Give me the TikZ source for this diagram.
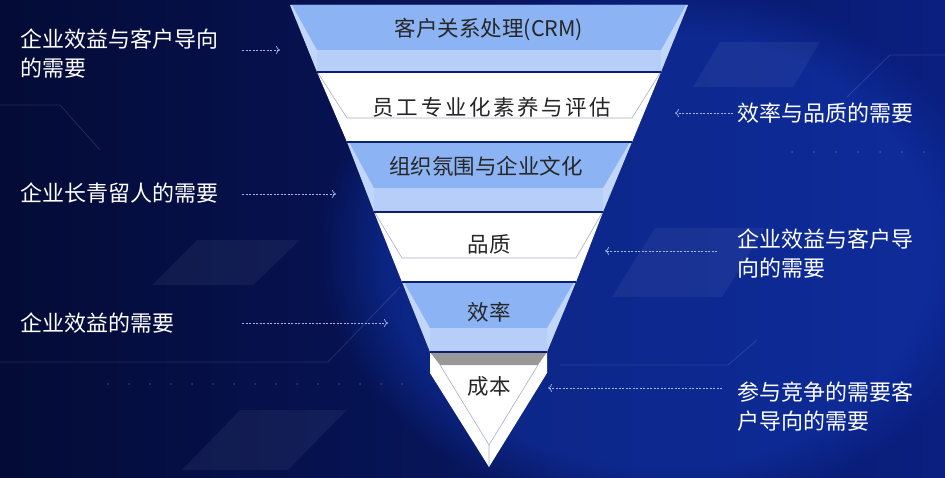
\documentclass[tikz,border=0pt]{standalone}
\usepackage{fontspec}
\setmainfont{Noto Sans CJK SC}
\usetikzlibrary{arrows.meta, fadings}

\definecolor{bgdark}{HTML}{040B36}
\definecolor{bgmid}{HTML}{0A1F80}
\definecolor{bgglow}{HTML}{1238B4}
\definecolor{facetop}{HTML}{8CB4F4}
\definecolor{facefront}{HTML}{B6CEF8}
\definecolor{faceside}{HTML}{C2D6FA}
\definecolor{edgegrey}{HTML}{A9AFC4}
\definecolor{seamblue}{HTML}{0E1E6E}
\definecolor{needline}{HTML}{A4B4E4}

\begin{document}
\begin{tikzpicture}
	[x=1pt, y=-1pt,
	 needtext/.style={text=white, font=\fontsize{22}{29}\selectfont, inner sep=0pt, align=left},
	 lhs/.style={needtext, anchor=west, text width=205pt},
	 rhs/.style={needtext, anchor=west},
	 layer/.style={text=black!85, font=\fontsize{21.5}{26}\selectfont, inner sep=0pt},
	 need/.style={draw=needline, line width=0.7pt, dash pattern=on 2pt off 1.5pt, -{To[length=4pt,width=8pt]}},
	 seam/.style={draw=seamblue, line width=1.2pt},
	 rim/.style={draw=edgegrey, line width=0.6pt},
	 decor/.style={fill=white, opacity=0.05},
	 trace/.style={draw=white, opacity=0.12, line width=0.8pt}]
   \useasboundingbox (0,0) rectangle (945,478);
   % background
   \shade[left color=bgdark, right color=bgmid] (0,0) rectangle (945,478);
   \fill[bgglow, opacity=0.5, path fading=circle with fuzzy edge 20 percent] (660,250) ellipse [x radius=340, y radius=270];
   \fill[decor] (197,240) -- (300,240) -- (253,285) -- (152,285) -- cycle;
   \fill[decor] (240,410) -- (347,410) -- (288,470) -- (182,470) -- cycle;
   \fill[decor] (720,42) -- (820,42) -- (793,87) -- (693,87) -- cycle;
   \fill[decor] (655,228) -- (765,228) -- (722,297) -- (612,297) -- cycle;
   \draw[trace] (0,362) -- (328,362) -- (400,287);
   \draw[trace] (847,97) -- (890,55) -- (945,55);
   \draw[trace] (560,365) -- (728,365) -- (757,340);
   \draw[trace] (0,105) -- (60,105) -- (100,150);
   \foreach \x in {108,129,...,405} \fill[white, opacity=0.2] (\x,384) circle (1pt);
   \foreach \x in {792,814,...,945} \fill[white, opacity=0.2] (\x,152) circle (1pt);

   % band 1
   \fill[faceside] (290,5) -- (317,72) -- (661,72) -- (688,5) -- cycle;
   \fill[facetop] (292,5) -- (686,5) -- (661,50) -- (317,50) -- cycle;
   \fill[facefront] (317,50) rectangle (661,72);
   % band 2
   \fill[white] (317,72) -- (347,142) -- (632,142) -- (661,72) -- cycle;
   \draw[rim] (318,73) -- (347,118) -- (632,118) -- (660,73);
   \draw[seam] (317,72) -- (661,72);
   % band 3
   \fill[faceside] (347,142) -- (374,212) -- (603,212) -- (632,142) -- cycle;
   \fill[facetop] (349,142) -- (630,142) -- (603,188) -- (374,188) -- cycle;
   \fill[facefront] (374,188) rectangle (603,212);
   \draw[seam] (347,142) -- (632,142);
   % band 4
   \fill[white] (374,212) -- (402,282) -- (576,282) -- (603,212) -- cycle;
   \draw[rim] (375,213) -- (402,258) -- (576,258) -- (602,213);
   \draw[seam] (374,212) -- (603,212);
   % band 5
   \fill[faceside] (402,282) -- (430,352) -- (547,352) -- (576,282) -- cycle;
   \fill[facetop] (404,282) -- (574,282) -- (547,328) -- (430,328) -- cycle;
   \fill[facefront] (430,328) rectangle (547,352);
   \draw[seam] (402,282) -- (576,282);
   % tip
   \fill[white] (430,352) -- (430,373) -- (489,467) -- (547,373) -- (547,352) -- cycle;
   \fill[black!40] (430,352) -- (547,352) -- (538,365) -- (440,365) -- cycle;
   \draw[rim] (440,365) -- (489,445) -- (538,365) (489,445) -- (489,467);
   \draw[seam] (430,352) -- (547,352);

   % layers
   \node[layer] (crm) at (489,29) {客户关系处理(CRM)};
   \node[layer, font=\fontsize{21.5}{26}\selectfont\addfontfeature{LetterSpace=12}] (staff) at (492,107) {员工专业化素养与评估};
   \node[layer] (culture) at (486,166) {组织氛围与企业文化};
   \node[layer] (quality) at (489,244) {品质};
   \node[layer] (effic) at (489,312) {效率};
   \node[layer] (cost) at (489,386) {成本};

   % needs
   \node[lhs] (custleft) at (20,54) {企业效益与客户导向\\的需要};
   \node[lhs] (retain) at (20,193) {企业长青留人的需要};
   \node[lhs] (benefit) at (20,323) {企业效益的需要};
   \node[rhs] (effqual) at (737,113) {效率与品质的需要};
   \node[rhs] (custright) at (737,254) {企业效益与客户导\\向的需要};
   \node[rhs] (compete) at (737,407) {参与竞争的需要客\\户导向的需要};

   \coordinate (a_1) at (280,50);
   \coordinate (a_2) at (336,194);
   \coordinate (a_3) at (388,323);
   \coordinate (a_4) at (675,113);
   \coordinate (a_5) at (605,251);
   \coordinate (a_6) at (548,388);
   \draw[need, shorten <=17pt] (custleft.east |- a_1) -- (a_1);
   \draw[need, shorten <=17pt] (retain.east |- a_2) -- (a_2);
   \draw[need, shorten <=17pt] (benefit.east |- a_3) -- (a_3);
   \draw[need, shorten <=4pt] (effqual.west |- a_4) -- (a_4);
   \draw[need, shorten <=20pt] (custright.west |- a_5) -- (a_5);
   \draw[need, shorten <=15pt] (compete.west |- a_6) -- (a_6);
\end{tikzpicture}
\end{document}
